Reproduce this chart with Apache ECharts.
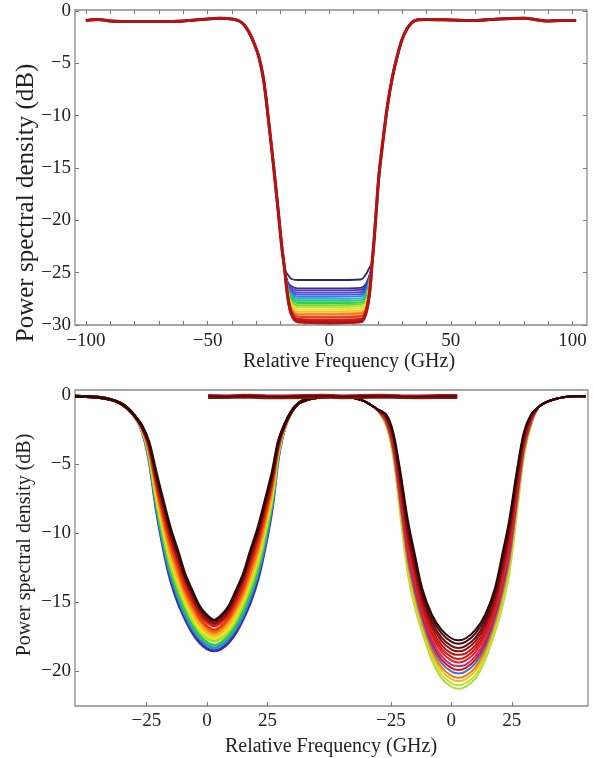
<!DOCTYPE html>
<html><head><meta charset="utf-8">
<script src="https://cdn.jsdelivr.net/npm/echarts@6/dist/echarts.min.js"></script>
<style>html,body{margin:0;padding:0;background:#fff;}#c{width:593px;height:758px;}</style>
</head><body><div id="c"></div>
<script>
// ---------- TOP PANEL DATA ----------
const topXTicks = [-100, -50, 0, 50, 100];
const topXMinor = [-100,-90,-80,-70,-60,-50,-40,-30,-20,-10,0,10,20,30,40,50,60,70,80,90,100];
const topYTicks = [-30, -25, -20, -15, -10, -5, 0];
// shared falling edge (left) and rising edge (right)
const topEdgeLX = [-100,-95,-90,-80,-70,-60,-50,-45,-40,-37,-35,-33,-31,-29,-27,-25,-23,-21,-19.5,-18.3];
const topEdgeLY = [-0.9,-0.8,-0.95,-1.0,-1.0,-0.95,-0.75,-0.7,-0.75,-0.95,-1.3,-2.0,-3.0,-4.3,-6.5,-10.3,-14.5,-19.0,-22.5,-24.7];
const topEdgeRX = [17.6,18.5,19.5,20.5,22,24,26,28,30,32,34,36,40,50,60,70,80,90,95,101.5];
const topEdgeRY = [-24.2,-21.8,-18.6,-15.6,-12.6,-9.0,-6.3,-4.3,-2.7,-1.7,-1.1,-0.85,-0.8,-0.85,-0.9,-0.75,-0.7,-0.95,-0.9,-0.9];
// notch floor of each trace
const topCoreX = [-17, -15.5, -13, 0, 13, 15, 16.6];
const topCore = [
  [-25.2,-25.6,-25.7,-25.7,-25.65,-25.2,-24.5],
  [-25.9,-26.3,-26.5,-26.5,-26.45,-26.1,-25.2],
  [-26.0,-26.5,-26.7,-26.7,-26.65,-26.3,-25.3],
  [-26.1,-26.7,-26.9,-26.9,-26.85,-26.5,-25.4],
  [-26.2,-26.8,-27.1,-27.1,-27.05,-26.7,-25.5],
  [-26.3,-27.0,-27.3,-27.3,-27.25,-26.9,-25.6],
  [-26.4,-27.2,-27.5,-27.5,-27.45,-27.1,-25.7],
  [-26.5,-27.3,-27.7,-27.7,-27.65,-27.3,-25.8],
  [-26.6,-27.5,-27.9,-27.9,-27.85,-27.5,-26.0],
  [-26.7,-27.7,-28.1,-28.1,-28.0,-27.7,-26.1],
  [-26.8,-27.9,-28.3,-28.3,-28.2,-27.9,-26.2],
  [-26.9,-28.0,-28.5,-28.5,-28.4,-28.0,-26.3],
  [-27.0,-28.2,-28.7,-28.7,-28.6,-28.2,-26.4],
  [-27.1,-28.4,-28.9,-28.9,-28.8,-28.4,-26.5],
  [-27.1,-28.5,-29.0,-29.0,-28.9,-28.5,-26.6],
  [-27.2,-28.6,-29.2,-29.2,-29.1,-28.6,-26.7],
  [-27.2,-28.7,-29.2,-29.3,-29.2,-28.7,-26.8],
  [-27.3,-28.8,-29.4,-29.5,-29.4,-28.8,-26.9],
  [-27.3,-28.9,-29.5,-29.6,-29.5,-28.9,-26.9],
  [-27.4,-29.0,-29.7,-29.8,-29.7,-29.0,-27.0]
];
const topColors = ['#262a6e','#3a2c9a','#4a32b8','#5b3fcb','#3f55e0','#2f7fe6','#22b5c8','#26c47c','#33cf45','#6bd834',
                   '#b1e02a','#ebe22a','#f3c526','#f4a224','#f17f22','#ec5a20','#e53b1f','#d9261c','#c81a18','#b01414'];

// ---------- BOTTOM PANEL DATA ----------
const botXTickPos = [-25, 0, 25, 76, 101, 126];   // composite axis positions
const botXTickText = ['−25','0','25','−25','0','25'];
const botYTicks = [-20, -15, -10, -5, 0];
const rightOffset = 101;   // right sub-plot drawn shifted on the shared axis
// left sub-plot
const blLeftX = [-54.5,-50,-45,-40,-36,-33,-30];
const blLeftY = [-0.1,-0.12,-0.18,-0.33,-0.58,-0.95,-1.5];
const blRightX = [35,38,42,47,53];
const blRightY = [-1.2,-0.6,-0.3,-0.15,-0.1];
const blMidX = [-27,-24,-21,-18,-15,-12,-9,-6,-3,0,3,6,9,12,15,18,21,24,27,29.5,32];
const blCurves = [
  [-2.2,-3.4,-5.6,-7.7,-9.7,-11.3,-13.0,-14.2,-15.3,-15.95,-16.3,-15.95,-15.3,-14.2,-13.0,-11.3,-9.7,-7.7,-5.6,-3.4,-2.2],
  [-2.2,-3.5,-5.9,-8.0,-10.1,-11.7,-13.3,-14.5,-15.6,-16.2,-16.5,-16.2,-15.6,-14.5,-13.3,-11.7,-10.1,-8.0,-5.9,-3.5,-2.2],
  [-2.3,-3.6,-6.1,-8.4,-10.4,-12.0,-13.6,-14.8,-15.8,-16.4,-16.7,-16.4,-15.8,-14.8,-13.6,-12.0,-10.4,-8.4,-6.1,-3.6,-2.3],
  [-2.3,-3.8,-6.4,-8.7,-10.8,-12.4,-14.0,-15.1,-16.1,-16.7,-17.0,-16.7,-16.1,-15.1,-14.0,-12.4,-10.8,-8.7,-6.4,-3.8,-2.3],
  [-2.3,-3.9,-6.6,-9.1,-11.2,-12.8,-14.3,-15.4,-16.3,-16.9,-17.2,-16.9,-16.3,-15.4,-14.3,-12.8,-11.2,-9.1,-6.6,-3.9,-2.3],
  [-2.4,-4.0,-6.9,-9.4,-11.6,-13.2,-14.6,-15.7,-16.6,-17.15,-17.4,-17.15,-16.6,-15.7,-14.6,-13.2,-11.6,-9.4,-6.9,-4.0,-2.4],
  [-2.4,-4.1,-7.2,-9.7,-11.9,-13.5,-14.9,-16.0,-16.9,-17.4,-17.6,-17.4,-16.9,-16.0,-14.9,-13.5,-11.9,-9.7,-7.2,-4.1,-2.4],
  [-2.4,-4.2,-7.4,-10.1,-12.3,-13.9,-15.2,-16.3,-17.1,-17.6,-17.8,-17.6,-17.1,-16.3,-15.2,-13.9,-12.3,-10.1,-7.4,-4.2,-2.4],
  [-2.4,-4.4,-7.7,-10.4,-12.7,-14.3,-15.6,-16.6,-17.4,-17.9,-18.1,-17.9,-17.4,-16.6,-15.6,-14.3,-12.7,-10.4,-7.7,-4.4,-2.4],
  [-2.5,-4.5,-7.9,-10.8,-13.0,-14.6,-15.9,-16.9,-17.6,-18.1,-18.3,-18.1,-17.6,-16.9,-15.9,-14.6,-13.0,-10.8,-7.9,-4.5,-2.5],
  [-2.5,-4.6,-8.2,-11.1,-13.4,-15.0,-16.2,-17.2,-17.9,-18.35,-18.5,-18.35,-17.9,-17.2,-16.2,-15.0,-13.4,-11.1,-8.2,-4.6,-2.5]
];
const blColors = ['#2e0a06','#8a1210','#d41a14','#ee3a12','#f27a16','#f4b81c','#e6e424','#9ee02a','#2ec84a','#2a8ee0','#3b2fb0'];
// right sub-plot (x relative to its own zero)
const brLeftX = [-51,-46,-42,-39,-36,-33.5,-31];
const brLeftY = [-0.1,-0.12,-0.18,-0.28,-0.45,-0.7,-1.0];
const brRightX = [36,39,43,47,51,55.6];
const brRightY = [-0.9,-0.55,-0.3,-0.15,-0.1,-0.1];
const brMidX = [-27,-24,-21,-18,-15,-12,-8,-4,0,3,6,10,14,18,21,24,27,30,33];
const brCurves = [
  [-1.4,-2.7,-5.6,-9.0,-11.6,-14.0,-15.9,-17.0,-17.6,-17.75,-17.6,-17.0,-15.9,-14.0,-11.6,-9.0,-5.6,-2.7,-1.4],
  [-1.45,-2.85,-5.85,-9.3,-11.9,-14.25,-16.15,-17.25,-17.85,-18.0,-17.85,-17.25,-16.15,-14.25,-11.9,-9.3,-5.85,-2.85,-1.45],
  [-1.5,-2.95,-6.1,-9.6,-12.2,-14.5,-16.4,-17.55,-18.15,-18.3,-18.15,-17.55,-16.4,-14.5,-12.2,-9.6,-6.1,-2.95,-1.5],
  [-1.6,-3.1,-6.35,-9.9,-12.5,-14.75,-16.65,-17.8,-18.4,-18.55,-18.4,-17.8,-16.65,-14.75,-12.5,-9.9,-6.35,-3.1,-1.6],
  [-1.65,-3.25,-6.6,-10.2,-12.8,-15.0,-16.9,-18.1,-18.7,-18.8,-18.7,-18.1,-16.9,-15.0,-12.8,-10.2,-6.6,-3.25,-1.65],
  [-1.7,-3.4,-6.85,-10.5,-13.05,-15.25,-17.2,-18.35,-18.95,-19.1,-18.95,-18.35,-17.2,-15.25,-13.05,-10.5,-6.85,-3.4,-1.7],
  [-1.75,-3.5,-7.1,-10.8,-13.35,-15.5,-17.4,-18.6,-19.2,-19.35,-19.2,-18.6,-17.4,-15.5,-13.35,-10.8,-7.1,-3.5,-1.75],
  [-1.85,-3.65,-7.3,-11.1,-13.65,-15.7,-17.7,-18.9,-19.5,-19.6,-19.5,-18.9,-17.7,-15.7,-13.65,-11.1,-7.3,-3.65,-1.85],
  [-1.9,-3.8,-7.55,-11.4,-13.95,-15.95,-17.95,-19.15,-19.75,-19.9,-19.75,-19.15,-17.95,-15.95,-13.95,-11.4,-7.55,-3.8,-1.9],
  [-1.95,-3.95,-7.8,-11.7,-14.25,-16.2,-18.2,-19.4,-20.0,-20.15,-20.0,-19.4,-18.2,-16.2,-14.25,-11.7,-7.8,-3.95,-1.95],
  [-2.0,-4.05,-8.05,-12.0,-14.5,-16.45,-18.45,-19.7,-20.3,-20.45,-20.3,-19.7,-18.45,-16.45,-14.5,-12.0,-8.05,-4.05,-2.0],
  [-2.1,-4.2,-8.3,-12.3,-14.8,-16.7,-18.7,-19.95,-20.55,-20.7,-20.55,-19.95,-18.7,-16.7,-14.8,-12.3,-8.3,-4.2,-2.1],
  [-2.15,-4.35,-8.55,-12.6,-15.1,-16.95,-18.95,-20.25,-20.85,-21.0,-20.85,-20.25,-18.95,-16.95,-15.1,-12.6,-8.55,-4.35,-2.15],
  [-2.2,-4.5,-8.8,-12.9,-15.4,-17.2,-19.2,-20.5,-21.1,-21.25,-21.1,-20.5,-19.2,-17.2,-15.4,-12.9,-8.8,-4.5,-2.2]
];
const brColors = ['#2a0808','#4a0c0c','#6a0f0f','#8c1010','#b81212','#d81414','#e82018','#c02a80','#d81818',
                  '#3c78c0','#f07a14','#e8c020','#c8e030','#a8e040'];
// flat overlay strip at the top of the lower panel
const ovX = [0.5,8,16,24,32,40,48,56,64,72,80,88,96,103.5];
const ovLines = [
  [-0.02,-0.04,0.0,-0.03,-0.05,-0.02,0.0,-0.04,-0.02,0.0,-0.03,-0.04,-0.02,-0.02],
  [-0.12,-0.13,-0.1,-0.14,-0.15,-0.12,-0.1,-0.14,-0.12,-0.1,-0.13,-0.15,-0.12,-0.12],
  [-0.22,-0.23,-0.2,-0.24,-0.25,-0.22,-0.2,-0.24,-0.22,-0.2,-0.23,-0.25,-0.22,-0.22]
];
const ovColors = ['#b01414','#3a0c0a','#8a1010'];

// ---------- BUILD ----------
const FONT = "'Liberation Serif','DejaVu Serif',serif";
const minus = v => (v < 0 ? '−' : '') + Math.abs(v);
const pairs = (xs, ys, dx) => xs.map((x, j) => [x + (dx || 0), ys[j]]);

const series = [];
topCore.forEach((core, i) => {
  series.push({
    type: 'line', xAxisIndex: 0, yAxisIndex: 0, showSymbol: false, silent: true, smooth: 0.3,
    data: [...pairs(topEdgeLX, topEdgeLY), ...pairs(topCoreX, core), ...pairs(topEdgeRX, topEdgeRY)],
    lineStyle: { color: topColors[i], width: i >= topCore.length - 2 ? 3 : 1.8 }
  });
});
for (let i = blCurves.length - 1; i >= 0; i--) {
  series.push({
    type: 'line', xAxisIndex: 2, yAxisIndex: 2, showSymbol: false, silent: true, smooth: 0.3,
    data: [...pairs(blLeftX, blLeftY), ...pairs(blMidX, blCurves[i]), ...pairs(blRightX, blRightY)],
    lineStyle: { color: blColors[i], width: 3 }
  });
}
for (let i = brCurves.length - 1; i >= 0; i--) {
  series.push({
    type: 'line', xAxisIndex: 2, yAxisIndex: 2, showSymbol: false, silent: true, smooth: 0.3,
    data: [...pairs(brLeftX, brLeftY, rightOffset), ...pairs(brMidX, brCurves[i], rightOffset), ...pairs(brRightX, brRightY, rightOffset)],
    lineStyle: { color: brColors[i], width: 2 }
  });
}
ovLines.forEach((ys, i) => {
  series.push({
    type: 'line', xAxisIndex: 2, yAxisIndex: 2, showSymbol: false, silent: true,
    data: pairs(ovX, ys), lineStyle: { color: ovColors[i], width: 2 }
  });
});

const tickStyle = { lineStyle: { color: '#777', width: 1 } };
const labelStyle = { fontFamily: FONT, fontSize: 19, color: '#222' };
const noLine = { show: false, onZero: false };

const option = {
  animation: false,
  backgroundColor: '#fff',
  grid: [
    { left: 75, top: 10, width: 512, height: 315, show: true, borderColor: '#8c8c8c', borderWidth: 1.3 },
    { left: 75, top: 390, width: 513, height: 316, show: true, borderColor: '#8c8c8c', borderWidth: 1.3 }
  ],
  xAxis: [
    { gridIndex: 0, type: 'value', min: -104.5, max: 106, position: 'bottom',
      axisLine: noLine, splitLine: { show: false },
      axisTick: { inside: true, length: 4, customValues: topXMinor, ...tickStyle },
      axisLabel: { customValues: topXTicks, formatter: minus, margin: 7, ...labelStyle } },
    { gridIndex: 0, type: 'value', min: -104.5, max: 106, position: 'top',
      axisLine: noLine, splitLine: { show: false },
      axisTick: { inside: true, length: 4, customValues: topXMinor, ...tickStyle },
      axisLabel: { show: false } },
    { gridIndex: 1, type: 'value', min: -54.5, max: 157.5, position: 'bottom',
      axisLine: noLine, splitLine: { show: false },
      axisTick: { inside: true, length: 4, customValues: botXTickPos, ...tickStyle },
      axisLabel: { customValues: botXTickPos, margin: 6, ...labelStyle,
        formatter: v => botXTickText[botXTickPos.indexOf(v)] } }
  ],
  yAxis: [
    { gridIndex: 0, type: 'value', min: -30, max: 0.1, position: 'left',
      axisLine: noLine, splitLine: { show: false },
      axisTick: { inside: true, length: 4, customValues: topYTicks, ...tickStyle },
      axisLabel: { customValues: topYTicks, formatter: minus, margin: 4, ...labelStyle } },
    { gridIndex: 0, type: 'value', min: -30, max: 0.1, position: 'right',
      axisLine: noLine, splitLine: { show: false },
      axisTick: { inside: true, length: 4, customValues: topYTicks, ...tickStyle },
      axisLabel: { show: false } },
    { gridIndex: 1, type: 'value', min: -22.5, max: 0.35, position: 'left',
      axisLine: noLine, splitLine: { show: false },
      axisTick: { inside: true, length: 4, customValues: botYTicks, ...tickStyle },
      axisLabel: { customValues: botYTicks, formatter: minus, margin: 4, ...labelStyle } }
  ],
  graphic: [
    { type: 'text', x: 26, y: 203, rotation: Math.PI / 2,
      style: { text: 'Power spectral density (dB)', fontFamily: FONT, fontSize: 25, fill: '#222', textAlign: 'center', textVerticalAlign: 'middle' } },
    { type: 'text', x: 25, y: 545, rotation: Math.PI / 2,
      style: { text: 'Power spectral density (dB)', fontFamily: FONT, fontSize: 20, fill: '#222', textAlign: 'center', textVerticalAlign: 'middle' } },
    { type: 'text', x: 349, y: 362,
      style: { text: 'Relative Frequency (GHz)', fontFamily: FONT, fontSize: 20, fill: '#222', textAlign: 'center', textVerticalAlign: 'middle' } },
    { type: 'text', x: 331, y: 747,
      style: { text: 'Relative Frequency (GHz)', fontFamily: FONT, fontSize: 20, fill: '#222', textAlign: 'center', textVerticalAlign: 'middle' } }
  ],
  series
};
const chart = echarts.init(document.getElementById('c'));
chart.setOption(option);
</script></body></html>
